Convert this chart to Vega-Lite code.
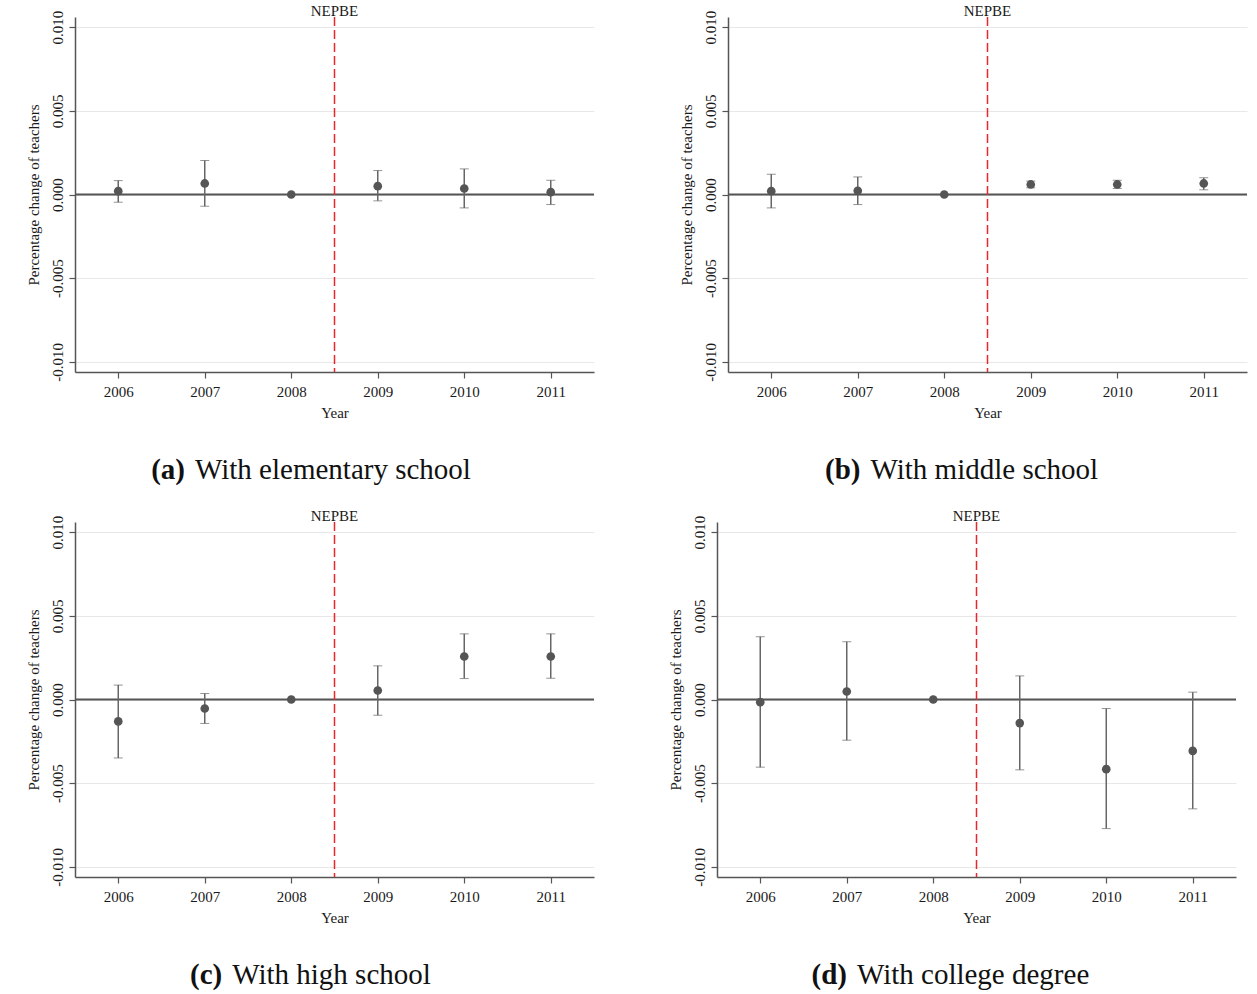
{
  "$schema": "https://vega.github.io/schema/vega-lite/v6.json",
  "background": "white",
  "padding": {"left": 26, "top": 4, "right": 5, "bottom": 0},
  "datasets": {
    "est": [
      {"panel": "a", "year": 2006, "est": 0.0002, "lo": -0.00046, "hi": 0.00083},
      {"panel": "a", "year": 2007, "est": 0.00066, "lo": -0.0007, "hi": 0.00203},
      {"panel": "a", "year": 2008, "est": 0, "lo": null, "hi": null},
      {"panel": "a", "year": 2009, "est": 0.0005, "lo": -0.00038, "hi": 0.00143},
      {"panel": "a", "year": 2010, "est": 0.00036, "lo": -0.0008, "hi": 0.00153},
      {"panel": "a", "year": 2011, "est": 0.00014, "lo": -0.0006, "hi": 0.00085},
      {"panel": "b", "year": 2006, "est": 0.0002, "lo": -0.0008, "hi": 0.00121},
      {"panel": "b", "year": 2007, "est": 0.00022, "lo": -0.0006, "hi": 0.00105},
      {"panel": "b", "year": 2008, "est": 0, "lo": null, "hi": null},
      {"panel": "b", "year": 2009, "est": 0.0006, "lo": 0.0004, "hi": 0.0008},
      {"panel": "b", "year": 2010, "est": 0.0006, "lo": 0.00036, "hi": 0.00085},
      {"panel": "b", "year": 2011, "est": 0.00066, "lo": 0.00028, "hi": 0.001},
      {"panel": "c", "year": 2006, "est": -0.00131, "lo": -0.00349, "hi": 0.00086},
      {"panel": "c", "year": 2007, "est": -0.00054, "lo": -0.00143, "hi": 0.00036},
      {"panel": "c", "year": 2008, "est": 0, "lo": null, "hi": null},
      {"panel": "c", "year": 2009, "est": 0.00054, "lo": -0.00094, "hi": 0.00201},
      {"panel": "c", "year": 2010, "est": 0.00257, "lo": 0.00125, "hi": 0.00392},
      {"panel": "c", "year": 2011, "est": 0.00257, "lo": 0.00127, "hi": 0.00392},
      {"panel": "d", "year": 2006, "est": -0.00016, "lo": -0.00404, "hi": 0.00375},
      {"panel": "d", "year": 2007, "est": 0.00048, "lo": -0.00243, "hi": 0.00345},
      {"panel": "d", "year": 2008, "est": 0, "lo": null, "hi": null},
      {"panel": "d", "year": 2009, "est": -0.00141, "lo": -0.0042, "hi": 0.00141},
      {"panel": "d", "year": 2010, "est": -0.00416, "lo": -0.00771, "hi": -0.00054},
      {"panel": "d", "year": 2011, "est": -0.00307, "lo": -0.00653, "hi": 0.00044}
    ]
  },
  "config": {
    "font": "Liberation Serif",
    "view": {"stroke": null},
    "axis": {
      "labelFont": "Liberation Serif", "titleFont": "Liberation Serif",
      "labelFontSize": 15, "titleFontSize": 15, "titleFontWeight": "normal",
      "labelColor": "#1a1a1a", "titleColor": "#1a1a1a",
      "domainColor": "#555555", "domainWidth": 1.5,
      "tickColor": "#555555", "tickWidth": 1.2, "tickSize": 6
    },
    "axisX": {"grid": false, "labelPadding": 6, "titlePadding": 6},
    "axisY": {
      "grid": true, "gridColor": "#e8e8e8", "gridWidth": 1,
      "labelAngle": -90, "labelAlign": "center", "labelBaseline": "bottom", "labelPadding": 4,
      "titlePadding": 9
    }
  },
  "vconcat": [
    {
      "hconcat": [
        {
          "width": 519, "height": 355,
          "layer": [
            {"data": {"values": [{}]}, "mark": {"type": "rule", "color": "#555555", "strokeWidth": 2}, "encoding": {"y": {"datum": 0, "type": "quantitative", "scale": {"domain": [-0.0106, 0.0106], "nice": false, "zero": false}, "title": "Percentage change of teachers", "axis": {"values": [-0.01, -0.005, 0, 0.005, 0.01], "labelExpr": "datum.value < 0 ? '-' + format(-datum.value, '.3f') : format(datum.value, '.3f')"}}}},
            {"data": {"values": [{}]}, "mark": {"type": "rule", "color": "#e8262b", "strokeWidth": 1.5, "strokeDash": [9, 4]}, "encoding": {"x": {"datum": 2008.5, "type": "quantitative", "scale": {"domain": [2005.5, 2011.5], "nice": false, "zero": false}, "title": "Year", "axis": {"values": [2006, 2007, 2008, 2009, 2010, 2011], "format": "d"}}}},
            {"data": {"name": "est"}, "transform": [{"filter": "datum.panel == 'a' && datum.lo != null"}], "mark": {"type": "errorbar", "ticks": {"size": 9, "color": "#666666", "strokeWidth": 1.5}, "rule": {"color": "#666666", "strokeWidth": 1.5}}, "encoding": {"x": {"field": "year", "type": "quantitative", "title": "Year"}, "y": {"field": "lo", "type": "quantitative", "title": "Percentage change of teachers"}, "y2": {"field": "hi"}}},
            {"data": {"name": "est"}, "transform": [{"filter": "datum.panel == 'a'"}], "mark": {"type": "circle", "color": "#555555", "opacity": 1, "size": 75}, "encoding": {"x": {"field": "year", "type": "quantitative", "title": "Year"}, "y": {"field": "est", "type": "quantitative", "title": "Percentage change of teachers"}}},
            {"data": {"values": [{}]}, "mark": {"type": "text", "text": "NEPBE", "fontSize": 15, "color": "#1a1a1a", "baseline": "alphabetic", "dy": -1}, "encoding": {"x": {"datum": 2008.5, "type": "quantitative"}, "y": {"datum": 0.0106, "type": "quantitative"}}},
            {"data": {"values": [{}]}, "mark": {"type": "text", "text": "(a)", "fontSize": 29, "fontWeight": "bold", "color": "#111111", "align": "right", "baseline": "alphabetic", "dx": -5}, "encoding": {"x": {"datum": 2006.83, "type": "quantitative"}, "y": {"datum": -0.0170, "type": "quantitative"}}},
            {"data": {"values": [{}]}, "mark": {"type": "text", "text": "With elementary school", "fontSize": 29, "color": "#111111", "align": "left", "baseline": "alphabetic", "dx": 5}, "encoding": {"x": {"datum": 2006.83, "type": "quantitative"}, "y": {"datum": -0.0170, "type": "quantitative"}}}
          ]
        },
        {
          "width": 519, "height": 355,
          "layer": [
            {"data": {"values": [{}]}, "mark": {"type": "rule", "color": "#555555", "strokeWidth": 2}, "encoding": {"y": {"datum": 0, "type": "quantitative", "scale": {"domain": [-0.0106, 0.0106], "nice": false, "zero": false}, "title": "Percentage change of teachers", "axis": {"values": [-0.01, -0.005, 0, 0.005, 0.01], "labelExpr": "datum.value < 0 ? '-' + format(-datum.value, '.3f') : format(datum.value, '.3f')"}}}},
            {"data": {"values": [{}]}, "mark": {"type": "rule", "color": "#e8262b", "strokeWidth": 1.5, "strokeDash": [9, 4]}, "encoding": {"x": {"datum": 2008.5, "type": "quantitative", "scale": {"domain": [2005.5, 2011.5], "nice": false, "zero": false}, "title": "Year", "axis": {"values": [2006, 2007, 2008, 2009, 2010, 2011], "format": "d"}}}},
            {"data": {"name": "est"}, "transform": [{"filter": "datum.panel == 'b' && datum.lo != null"}], "mark": {"type": "errorbar", "ticks": {"size": 9, "color": "#666666", "strokeWidth": 1.5}, "rule": {"color": "#666666", "strokeWidth": 1.5}}, "encoding": {"x": {"field": "year", "type": "quantitative", "title": "Year"}, "y": {"field": "lo", "type": "quantitative", "title": "Percentage change of teachers"}, "y2": {"field": "hi"}}},
            {"data": {"name": "est"}, "transform": [{"filter": "datum.panel == 'b'"}], "mark": {"type": "circle", "color": "#555555", "opacity": 1, "size": 75}, "encoding": {"x": {"field": "year", "type": "quantitative", "title": "Year"}, "y": {"field": "est", "type": "quantitative", "title": "Percentage change of teachers"}}},
            {"data": {"values": [{}]}, "mark": {"type": "text", "text": "NEPBE", "fontSize": 15, "color": "#1a1a1a", "baseline": "alphabetic", "dy": -1}, "encoding": {"x": {"datum": 2008.5, "type": "quantitative"}, "y": {"datum": 0.0106, "type": "quantitative"}}},
            {"data": {"values": [{}]}, "mark": {"type": "text", "text": "(b)", "fontSize": 29, "fontWeight": "bold", "color": "#111111", "align": "right", "baseline": "alphabetic", "dx": -5}, "encoding": {"x": {"datum": 2007.09, "type": "quantitative"}, "y": {"datum": -0.0170, "type": "quantitative"}}},
            {"data": {"values": [{}]}, "mark": {"type": "text", "text": "With middle school", "fontSize": 29, "color": "#111111", "align": "left", "baseline": "alphabetic", "dx": 5}, "encoding": {"x": {"datum": 2007.09, "type": "quantitative"}, "y": {"datum": -0.0170, "type": "quantitative"}}}
          ]
        }
      ],
      "spacing": 84
    },
    {
      "hconcat": [
        {
          "width": 519, "height": 355,
          "layer": [
            {"data": {"values": [{}]}, "mark": {"type": "rule", "color": "#555555", "strokeWidth": 2}, "encoding": {"y": {"datum": 0, "type": "quantitative", "scale": {"domain": [-0.0106, 0.0106], "nice": false, "zero": false}, "title": "Percentage change of teachers", "axis": {"values": [-0.01, -0.005, 0, 0.005, 0.01], "labelExpr": "datum.value < 0 ? '-' + format(-datum.value, '.3f') : format(datum.value, '.3f')"}}}},
            {"data": {"values": [{}]}, "mark": {"type": "rule", "color": "#e8262b", "strokeWidth": 1.5, "strokeDash": [9, 4]}, "encoding": {"x": {"datum": 2008.5, "type": "quantitative", "scale": {"domain": [2005.5, 2011.5], "nice": false, "zero": false}, "title": "Year", "axis": {"values": [2006, 2007, 2008, 2009, 2010, 2011], "format": "d"}}}},
            {"data": {"name": "est"}, "transform": [{"filter": "datum.panel == 'c' && datum.lo != null"}], "mark": {"type": "errorbar", "ticks": {"size": 9, "color": "#666666", "strokeWidth": 1.5}, "rule": {"color": "#666666", "strokeWidth": 1.5}}, "encoding": {"x": {"field": "year", "type": "quantitative", "title": "Year"}, "y": {"field": "lo", "type": "quantitative", "title": "Percentage change of teachers"}, "y2": {"field": "hi"}}},
            {"data": {"name": "est"}, "transform": [{"filter": "datum.panel == 'c'"}], "mark": {"type": "circle", "color": "#555555", "opacity": 1, "size": 75}, "encoding": {"x": {"field": "year", "type": "quantitative", "title": "Year"}, "y": {"field": "est", "type": "quantitative", "title": "Percentage change of teachers"}}},
            {"data": {"values": [{}]}, "mark": {"type": "text", "text": "NEPBE", "fontSize": 15, "color": "#1a1a1a", "baseline": "alphabetic", "dy": -1}, "encoding": {"x": {"datum": 2008.5, "type": "quantitative"}, "y": {"datum": 0.0106, "type": "quantitative"}}},
            {"data": {"values": [{}]}, "mark": {"type": "text", "text": "(c)", "fontSize": 29, "fontWeight": "bold", "color": "#111111", "align": "right", "baseline": "alphabetic", "dx": -5}, "encoding": {"x": {"datum": 2007.26, "type": "quantitative"}, "y": {"datum": -0.0170, "type": "quantitative"}}},
            {"data": {"values": [{}]}, "mark": {"type": "text", "text": "With high school", "fontSize": 29, "color": "#111111", "align": "left", "baseline": "alphabetic", "dx": 5}, "encoding": {"x": {"datum": 2007.26, "type": "quantitative"}, "y": {"datum": -0.0170, "type": "quantitative"}}}
          ]
        },
        {
          "width": 519, "height": 355,
          "layer": [
            {"data": {"values": [{}]}, "mark": {"type": "rule", "color": "#555555", "strokeWidth": 2}, "encoding": {"y": {"datum": 0, "type": "quantitative", "scale": {"domain": [-0.0106, 0.0106], "nice": false, "zero": false}, "title": "Percentage change of teachers", "axis": {"values": [-0.01, -0.005, 0, 0.005, 0.01], "labelExpr": "datum.value < 0 ? '-' + format(-datum.value, '.3f') : format(datum.value, '.3f')"}}}},
            {"data": {"values": [{}]}, "mark": {"type": "rule", "color": "#e8262b", "strokeWidth": 1.5, "strokeDash": [9, 4]}, "encoding": {"x": {"datum": 2008.5, "type": "quantitative", "scale": {"domain": [2005.5, 2011.5], "nice": false, "zero": false}, "title": "Year", "axis": {"values": [2006, 2007, 2008, 2009, 2010, 2011], "format": "d"}}}},
            {"data": {"name": "est"}, "transform": [{"filter": "datum.panel == 'd' && datum.lo != null"}], "mark": {"type": "errorbar", "ticks": {"size": 9, "color": "#666666", "strokeWidth": 1.5}, "rule": {"color": "#666666", "strokeWidth": 1.5}}, "encoding": {"x": {"field": "year", "type": "quantitative", "title": "Year"}, "y": {"field": "lo", "type": "quantitative", "title": "Percentage change of teachers"}, "y2": {"field": "hi"}}},
            {"data": {"name": "est"}, "transform": [{"filter": "datum.panel == 'd'"}], "mark": {"type": "circle", "color": "#555555", "opacity": 1, "size": 75}, "encoding": {"x": {"field": "year", "type": "quantitative", "title": "Year"}, "y": {"field": "est", "type": "quantitative", "title": "Percentage change of teachers"}}},
            {"data": {"values": [{}]}, "mark": {"type": "text", "text": "NEPBE", "fontSize": 15, "color": "#1a1a1a", "baseline": "alphabetic", "dy": -1}, "encoding": {"x": {"datum": 2008.5, "type": "quantitative"}, "y": {"datum": 0.0106, "type": "quantitative"}}},
            {"data": {"values": [{}]}, "mark": {"type": "text", "text": "(d)", "fontSize": 29, "fontWeight": "bold", "color": "#111111", "align": "right", "baseline": "alphabetic", "dx": -5}, "encoding": {"x": {"datum": 2007.06, "type": "quantitative"}, "y": {"datum": -0.0170, "type": "quantitative"}}},
            {"data": {"values": [{}]}, "mark": {"type": "text", "text": "With college degree", "fontSize": 29, "color": "#111111", "align": "left", "baseline": "alphabetic", "dx": 5}, "encoding": {"x": {"datum": 2007.06, "type": "quantitative"}, "y": {"datum": -0.0170, "type": "quantitative"}}}
          ]
        }
      ],
      "spacing": 73
    }
  ],
  "spacing": 23
}
